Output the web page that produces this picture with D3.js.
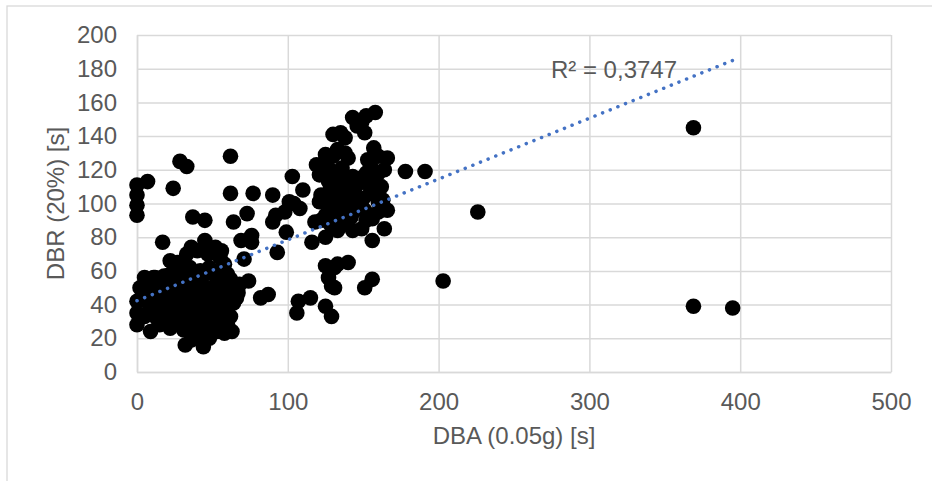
<!DOCTYPE html>
<html>
	<head>
		<title>DBR vs DBA scatter</title>
		<meta charset='UTF-8' />
		<style>
			body {
				margin: 0;
				background: #ffffff;
				font-family: 'Liberation Sans', Arial, sans-serif;
			}
			.grid line {
				stroke: #d9d9d9;
				stroke-width: 1.5px;
			}
			.grid path {
				display: none;
			}
			.axis path {
				stroke: #d9d9d9;
				stroke-width: 1.5px;
			}
			.axis text, .title, .r2 {
				fill: #595959;
				font-size: 24px;
			}
		</style>
	</head>

	<body>
	<script src='https://d3js.org/d3.v7.min.js'></script>

	<script>
	'use strict';

	// DBA (0.05g) [s] values
	const dba = [
		// lower-left cluster
		20, 22, 27, 30, 33, 36, 40, 45, 47, 52, 55, 58, 56,
		5, 8, 12, 15, 18, 22, 25, 28, 32, 35, 38, 42, 45, 48, 52, 55, 60, 62,
		2, 6, 10, 13, 16, 20, 24, 27, 30, 33, 36, 40, 43, 46, 50, 53, 57, 60, 63, 66,
		0, 4, 8, 11, 14, 18, 21, 25, 28, 31, 34, 37, 40, 44, 47, 50, 54, 57, 60, 64,
		0, 5, 9, 13, 17, 20, 23, 27, 30, 33, 36, 39, 42, 45, 48, 51, 55, 58, 62,
		0, 9, 15, 22, 26, 31, 35, 38, 42, 46, 50, 53, 58, 60,
		32, 36, 40, 44, 48, 67, 68, 11, 63,
		// left / upper-left
		0, 0, 0, 0, 7, 24, 28.5, 33, 62, 62, 77, 17, 37, 45, 64, 73, 69, 71, 74, 76, 76,
		// middle
		90, 103, 110, 104, 101, 108, 98, 92, 90, 99, 93, 116, 121, 118, 125, 125, 133, 133,
		125, 131, 127, 129, 82, 87, 107, 115, 106, 125, 129,
		// upper cluster
		130, 135, 125, 119, 121, 127, 158, 152, 143, 138, 151, 157, 166, 133, 140, 153, 136,
		164, 178, 191, 156, 143, 150, 140, 158, 135, 158, 160, 166, 145, 151, 156, 133, 143,
		149, 164, 156, 140, 133, 131, 156, 151, 141,
		125, 128, 130, 145, 148, 152, 155, 160, 155, 150, 147, 152, 160, 162, 128, 132, 130,
		135, 138, 140, 143, 127, 122, 146, 149, 160, 163, 122, 128, 137, 142, 130, 134, 138,
		// outliers
		203, 226, 369, 369, 395
	];

	// DBR (20%) [s] values, same order
	const dbr = [
		57, 66, 65, 63, 70, 74, 72, 78, 70, 74, 68, 64, 72,
		56, 55, 56, 54, 57, 58, 55, 60, 58, 62, 56, 60, 58, 62, 57, 60, 58, 55,
		50, 48, 50, 47, 51, 46, 50, 48, 52, 46, 50, 48, 52, 46, 50, 48, 52, 46, 49, 44,
		42, 44, 40, 43, 38, 42, 39, 43, 40, 44, 38, 42, 40, 43, 38, 42, 40, 44, 38, 41,
		35, 33, 36, 32, 35, 31, 34, 31, 36, 32, 35, 30, 34, 31, 36, 32, 34, 30, 33,
		28, 24, 28, 26, 29, 25, 28, 23, 26, 22, 27, 24, 23, 28,
		16, 19, 21, 15, 20, 47, 52, 56, 24,
		111, 105, 99, 93, 113, 109, 125, 122, 128, 106, 106, 77, 92, 90, 89, 94, 78, 67, 54, 81, 77,
		105, 116, 108, 100, 101, 97, 95, 93, 89, 83, 71, 77, 101, 89, 93, 80, 84, 101,
		63, 62, 56, 51, 44, 46, 42, 44, 35, 39, 33,
		141, 142, 129, 123, 117, 113, 154, 152, 151, 139, 142, 133, 127, 132, 127, 126, 121,
		120, 119, 119, 118, 116, 113, 111, 112, 105, 105, 101, 96, 96, 96, 91, 85, 84,
		85, 85, 78, 65, 64, 50, 55, 50, 107,
		125, 120, 128, 110, 115, 118, 122, 118, 108, 103, 100, 90, 95, 110, 108, 112, 95,
		92, 88, 100, 105, 100, 105, 146, 148, 128, 102, 90, 88, 96, 92, 118, 114, 130,
		54, 95, 145, 39, 38
	];

	const xTicks = [0, 100, 200, 300, 400, 500];
	const yTicks = [0, 20, 40, 60, 80, 100, 120, 140, 160, 180, 200];

	// linear trendline as shown (Excel)
	const trendIntercept = 42.3;
	const trendSlope = 0.361;
	const r2Text = 'R\u00b2 = 0,3747';

	const margin = {top: 35, right: 41, bottom: 109, left: 137};
	const width = 932 - margin.left - margin.right;
	const height = 481 - margin.top - margin.bottom;

	const x = d3.scaleLinear()
		.domain([0, 500])
		.range([0, width]);

	const y = d3.scaleLinear()
		.domain([0, 200])
		.range([height, 0]);

	const svg = d3.select('body').append('svg')
		.attr('width', 932)
		.attr('height', 481);

	// outer chart frame (only top and left edges fall inside the picture)
	svg.append('rect')
		.attr('x', 7)
		.attr('y', 6)
		.attr('width', 1000)
		.attr('height', 1000)
		.attr('fill', '#ffffff')
		.attr('stroke', '#d9d9d9')
		.attr('stroke-width', 1.3);

	const g = svg.append('g')
		.attr('transform', 'translate(' + margin.left + ',' + margin.top + ')');

	// gridlines
	g.append('g')
		.attr('class', 'grid')
		.call(d3.axisLeft(y).tickValues(yTicks).tickSize(-width).tickFormat(''));

	g.append('g')
		.attr('class', 'grid')
		.attr('transform', 'translate(0,' + height + ')')
		.call(d3.axisBottom(x).tickValues(xTicks).tickSize(-height).tickFormat(''));

	// axes
	g.append('g')
		.attr('class', 'x axis')
		.attr('transform', 'translate(0,' + height + ')')
		.call(d3.axisBottom(x).tickValues(xTicks).tickSize(0).tickPadding(21));

	g.append('g')
		.attr('class', 'y axis')
		.call(d3.axisLeft(y).tickValues(yTicks).tickSize(0).tickPadding(20));

	g.selectAll('.axis text').attr('font-family', null);

	// points
	g.append('g')
		.selectAll('circle')
		.data(d3.range(dba.length))
		.enter().append('circle')
		.attr('cx', function(i) { return x(dba[i]); })
		.attr('cy', function(i) { return y(dbr[i]); })
		.attr('r', 7.8)
		.attr('fill', '#000000');

	// trendline over the data range, drawn on top of the points
	const xExtent = d3.extent(dba);
	g.append('line')
		.attr('x1', x(xExtent[0]))
		.attr('y1', y(trendIntercept + trendSlope * xExtent[0]))
		.attr('x2', x(xExtent[1]))
		.attr('y2', y(trendIntercept + trendSlope * xExtent[1]))
		.attr('stroke', '#4472c4')
		.attr('stroke-width', 3.5)
		.attr('stroke-linecap', 'round')
		.attr('stroke-dasharray', '0.1,8.13');

	g.append('text')
		.attr('class', 'r2')
		.attr('x', x(274.5))
		.attr('y', y(174.5))
		.text(r2Text);

	// axis titles
	svg.append('text')
		.attr('class', 'title')
		.attr('text-anchor', 'middle')
		.attr('x', margin.left + width / 2)
		.attr('y', 444)
		.text('DBA (0.05g) [s]');

	svg.append('text')
		.attr('class', 'title')
		.attr('text-anchor', 'middle')
		.attr('transform', 'translate(64,' + (margin.top + height / 2) + ') rotate(-90)')
		.text('DBR (20%) [s]');
	</script>
</body>
</html>
